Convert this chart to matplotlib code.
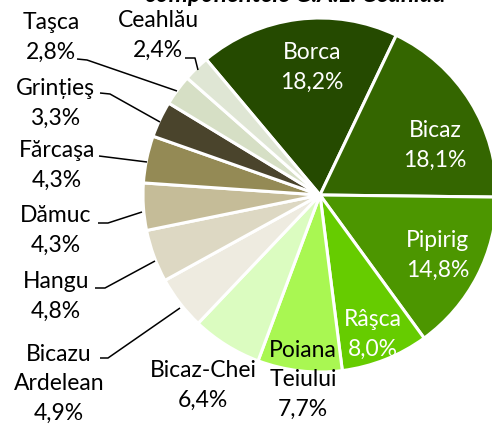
import matplotlib
matplotlib.use("Agg")
import matplotlib.pyplot as plt

# Share of each locality within G.A.L. Ceahlău (percent)
localities = ["Borca", "Bicaz", "Pipirig", "Râşca", "Poiana\nTeiului", "Bicaz-Chei",
              "Bicazu\nArdelean", "Hangu", "Dămuc", "Fărcaşa", "Grințieş", "Taşca", "Ceahlău"]
shares = [18.2, 18.1, 14.8, 8.0, 7.7, 6.4, 4.9, 4.8, 4.3, 4.3, 3.3, 2.8, 2.4]

colors = ["#254a00", "#346600", "#4c9600", "#66cc00", "#a9f752", "#dbfcc0",
          "#eeebe0", "#ddd8c3", "#c5bc98", "#948a55", "#4a442c", "#d6dfc5", "#dfe6d4"]
text_colors = ["white"] * 4 + ["black"] * 9

W, H = 492, 426
fig = plt.figure(figsize=(W / 100, H / 100), dpi=100)
ax = fig.add_axes([0, 0, 1, 1])


def Y(y):
    """Convert a top-down pixel row to axis coordinates."""
    return H - y


cx, cy, r = 320, 195, 177
ax.pie(shares, colors=colors, startangle=130, counterclock=False,
       center=(cx, Y(cy)), radius=r, frame=True,
       wedgeprops=dict(edgecolor="white", linewidth=2.2))
ax.set_xlim(0, W)
ax.set_ylim(0, H)
ax.set_aspect("equal")
ax.axis("off")

# label block centres (pixel rows from the top)
label_pos = [(312, 67), (435, 145), (438, 255), (373, 334), (303, 380), (203, 385),
             (59, 384), (56, 296), (56, 230), (57, 165), (55, 103), (51, 37), (158, 35)]

font = "Lato"
for name, val, (x, y), tc in zip(localities, shares, label_pos, text_colors):
    txt = f"{name}\n{val:.1f}%".replace(".", ",")
    ax.text(x, Y(y), txt, ha="center", va="center", fontsize=16.5, color=tc,
            family=font, linespacing=1.52)

# leader lines for the small outer slices
leaders = [
    [(77, 59), (87, 60), (177, 91)],      # Taşca
    [(100, 93), (110, 94), (160, 122)],   # Grinţieş
    [(99, 156), (147, 162)],              # Fărcaşa
    [(98, 223), (108, 223), (142, 212)],  # Dămuc
    [(95, 288), (105, 288), (155, 261)],  # Hangu
    [(100, 358), (108, 358), (180, 308)], # Bicazu Ardelean
    [(185, 58), (195, 58), (198, 70)],    # Ceahlău
]
for pts in leaders:
    xs = [p[0] for p in pts]
    ys = [Y(p[1]) for p in pts]
    ax.plot(xs, ys, color="black", linewidth=1.1, solid_capstyle="butt")

ax.text(295, Y(2), "componentele G.A.L. Ceahlău", ha="center", va="baseline",
        fontsize=17.5, fontweight="bold", fontstyle="italic", family=font)

fig.savefig("out.png", dpi=100)
